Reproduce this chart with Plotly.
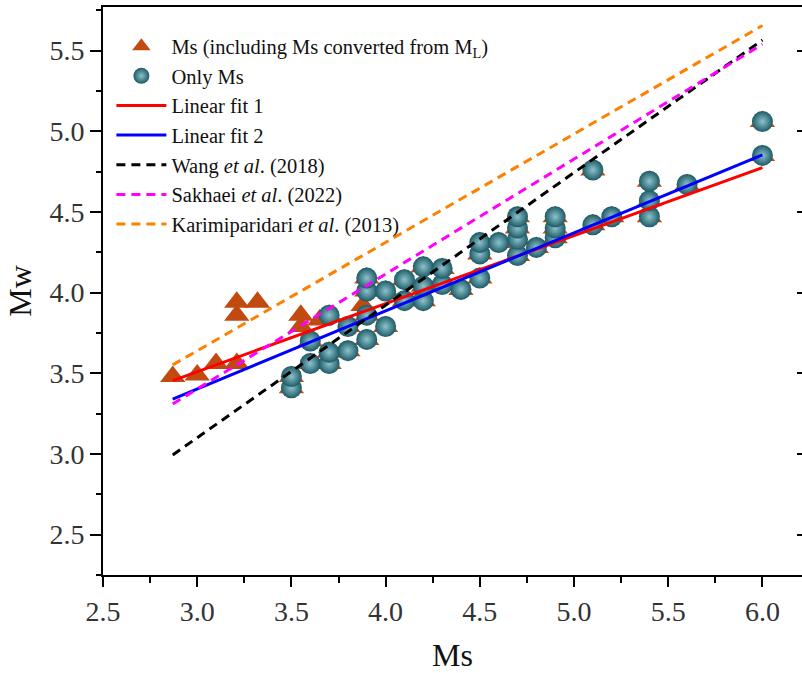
import plotly.graph_objects as go

# Magnitudes converted from ML (triangles only)
conv_ms = [2.87, 3.00, 3.10, 3.21, 3.21, 3.32, 3.21, 3.55, 3.55, 3.65, 3.88]
conv_mw = [3.48, 3.49, 3.56, 3.56, 3.94, 3.94, 3.86, 3.86, 3.79, 3.83, 3.92]

# Events with directly measured Ms
only_ms = [3.5, 3.5, 3.6, 3.6, 3.7, 3.7, 3.7, 3.8, 3.8, 3.9, 3.9, 3.9, 3.9,
           4.0, 4.0, 4.1, 4.1, 4.2, 4.2, 4.2, 4.3, 4.3, 4.4, 4.5, 4.5, 4.5,
           4.6, 4.7, 4.7, 4.7, 4.7, 4.8, 4.9, 4.9, 4.9, 5.1, 5.1, 5.2, 5.4,
           5.4, 5.4, 5.6, 6.0, 6.0]
only_mw = [3.41, 3.48, 3.56, 3.70, 3.56, 3.63, 3.86, 3.64, 3.79, 3.71, 3.86,
           4.01, 4.09, 3.79, 4.01, 3.95, 4.08, 3.95, 4.04, 4.16, 4.05, 4.15,
           4.02, 4.09, 4.24, 4.31, 4.31, 4.23, 4.33, 4.40, 4.47, 4.28, 4.34,
           4.40, 4.47, 4.42, 4.76, 4.47, 4.47, 4.57, 4.69, 4.67, 4.85, 5.06]

# Regression lines (end points)
fit_ms = [2.87, 6.0]
fit1_mw = [3.455, 4.775]
fit2_mw = [3.340, 4.854]
wang_mw = [2.994, 5.565]
sakhaei_mw = [3.310, 5.540]
karimi_mw = [3.552, 5.655]

x_ticks = [2.5, 3.0, 3.5, 4.0, 4.5, 5.0, 5.5, 6.0]
y_ticks = [2.5, 3.0, 3.5, 4.0, 4.5, 5.0, 5.5]

tri_color = "#c04a10"
serif = "Liberation Serif, Times New Roman, serif"

fig = go.Figure()

fig.add_trace(go.Scatter(
    x=conv_ms + only_ms, y=conv_mw + only_mw, mode="markers",
    name="Ms (including Ms converted from M<sub>L</sub>)",
    marker=dict(symbol="triangle-up", size=22, color=tri_color,
                line=dict(width=0)),
))
fig.add_trace(go.Scatter(
    x=only_ms, y=only_mw, mode="markers", name="Only Ms",
    marker=dict(symbol="circle", size=21, color="#1d5a66",
                gradient=dict(type="radial", color="#8cc3cc"),
                line=dict(width=0)),
))

lines = [
    ("Linear fit 1", fit1_mw, "#ff0000", "solid"),
    ("Linear fit 2", fit2_mw, "#0000ff", "solid"),
    ("Wang <i>et al</i>. (2018)", wang_mw, "#000000", "9px,6px"),
    ("Sakhaei <i>et al</i>. (2022)", sakhaei_mw, "#ff00ff", "9px,6px"),
    ("Karimiparidari <i>et al</i>. (2013)", karimi_mw, "#ff8000", "9px,6px"),
]
for name, ys, col, dash in lines:
    fig.add_trace(go.Scatter(
        x=fit_ms, y=ys, mode="lines", name=name,
        line=dict(color=col, width=3, dash=dash),
    ))

# empty trace carrying the inward ticks on the right side
fig.add_trace(go.Scatter(x=[None], y=[None], yaxis="y2", showlegend=False,
                         hoverinfo="skip"))

fig.update_layout(
    width=802, height=673,
    margin=dict(l=103, r=0, t=7, b=98),
    plot_bgcolor="white", paper_bgcolor="white",
    font=dict(family=serif, color="#222222", size=20),
    showlegend=True,
    legend=dict(x=0.012, y=0.966, xanchor="left", yanchor="top",
                bgcolor="rgba(0,0,0,0)", itemwidth=50,
                font=dict(family=serif, size=20.5, color="#111111"),
                tracegroupgap=0),
    xaxis=dict(
        range=[2.5, 6.21], tickvals=x_ticks,
        ticktext=[f"{v:.1f}" for v in x_ticks],
        ticks="outside", ticklen=10, tickwidth=2, tickcolor="black",
        minor=dict(dtick=0.25, tick0=2.5, ticks="outside", ticklen=6,
                   tickwidth=2, tickcolor="black"),
        showline=True, linewidth=2, linecolor="black", mirror=True,
        showgrid=False, zeroline=False,
        tickfont=dict(family=serif, size=28, color="#333333"),
        title=dict(text="Ms", font=dict(family=serif, size=32, color="#111111"),
                   standoff=19),
    ),
    yaxis=dict(
        range=[2.25, 5.77], tickvals=y_ticks,
        ticktext=[f"{v:.1f}" for v in y_ticks],
        ticks="outside", ticklen=11, tickwidth=2, tickcolor="black",
        minor=dict(dtick=0.25, tick0=2.5, ticks="outside", ticklen=5,
                   tickwidth=2, tickcolor="black"),
        showline=True, linewidth=2, linecolor="black",
        showgrid=False, zeroline=False,
        tickfont=dict(family=serif, size=28, color="#333333"),
        title=dict(text="Mw", font=dict(family=serif, size=32, color="#111111"),
                   standoff=8),
    ),
    yaxis2=dict(
        overlaying="y", side="right", range=[2.25, 5.77], tickvals=y_ticks,
        ticks="inside", ticklen=5, tickwidth=2, tickcolor="black",
        showticklabels=False, showline=False, showgrid=False, zeroline=False,
    ),
)

fig.write_html("out.html")
